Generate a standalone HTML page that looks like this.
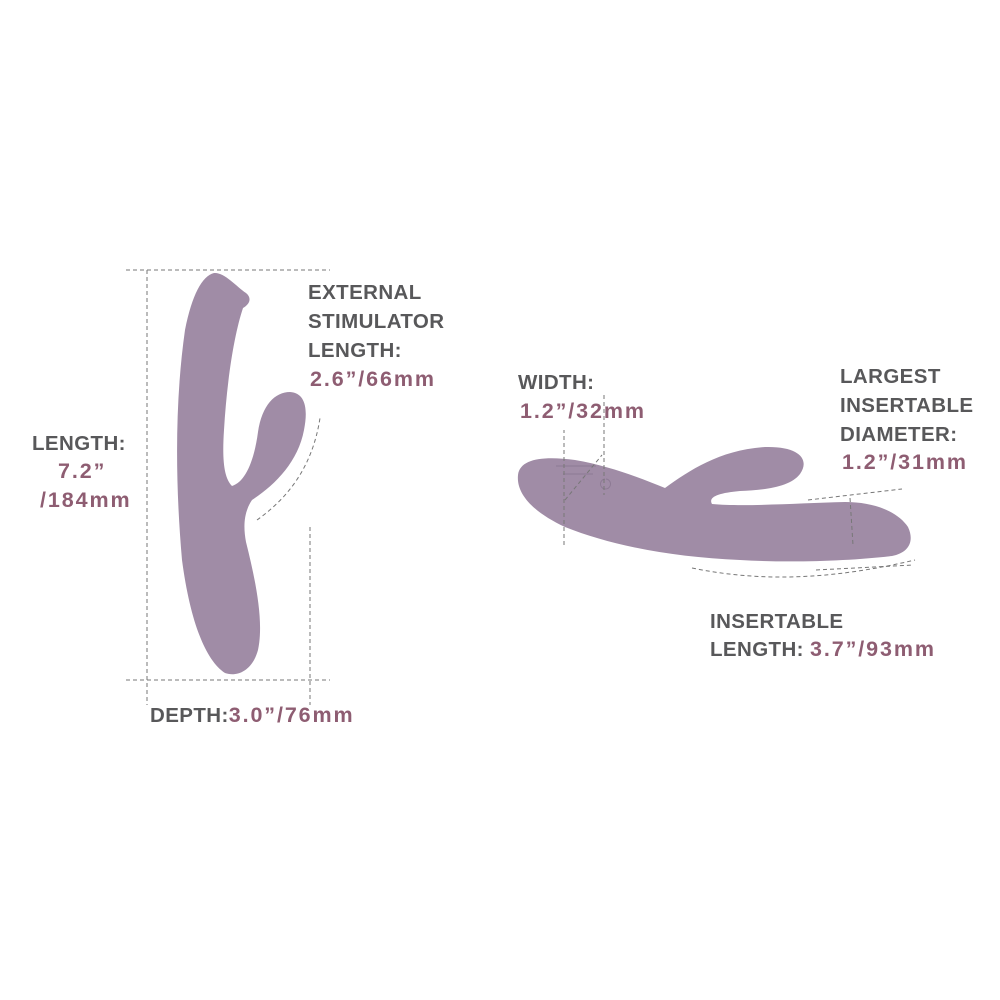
<!DOCTYPE html>
<html><head><meta charset="utf-8"><style>
html,body{margin:0;padding:0;background:#fff;}
svg{display:block}
text{font-family:"Liberation Sans",sans-serif;font-weight:bold;font-size:20.5px;letter-spacing:0.4px}
.g{fill:#58585a}.m{fill:#8e5d72;font-size:21.5px;letter-spacing:1.9px}
.d{stroke:#777;stroke-width:1;stroke-dasharray:4 3;fill:none}
</style></head><body>
<svg width="1000" height="1000" viewBox="0 0 1000 1000">
<rect width="1000" height="1000" fill="#fff"/>
<!-- left device -->
<path fill="#a08ca6" d="M214,273 C224,272 236,286 246,293 C252,298 250,304 243,308 C234,335 227,380 224,430 C222,460 224,478 232,486 C245,482 254,462 258,432 C262,405 275,392 290,392 C306,393 308,410 304,430 C298,462 275,485 252,500 C244,512 243,526 246,542 C256,582 264,622 258,650 C252,672 236,677 225,673 C205,660 190,620 182,560 C175,480 175,400 185,330 C192,295 202,276 214,273 Z"/>
<!-- right device -->
<path fill="#a08ca6" d="M518,475 C520,458 545,456 575,460 C610,466 640,478 665,488 C690,470 720,450 765,447 C800,446 810,460 800,474 C790,487 765,490 740,491 C718,493 708,497 712,504 C745,507 800,503 845,502 C875,502 898,512 908,527 C915,542 908,553 892,556 C850,561 790,563 740,560 C670,557 610,545 565,527 C535,513 516,495 518,475 Z"/>
<path fill="none" stroke="#8d7a94" stroke-width="1" d="M556,466 h40 M563,474 h30 M605,479 a5 5 0 1 0 1 0"/>
<!-- dashed lines left -->
<path class="d" d="M126,270 H330 M126,680 H330 M147,270 V705 M310,527 V705 M257,520 C285,500 312,470 320,418"/>
<!-- dashed lines right -->
<path class="d" d="M564,545 V430 M604,395 V495 M565,500 L602,455 M808,500 L902,489 M850,498 L853,545 M692,568 C760,582 830,580 915,560 M816,570 L913,565"/>
<!-- text -->
<text class="g" x="308" y="299">EXTERNAL</text>
<text class="g" x="308" y="328">STIMULATOR</text>
<text class="g" x="308" y="357">LENGTH:</text>
<text class="m" x="310" y="386">2.6”/66mm</text>
<text class="g" x="32" y="450">LENGTH:</text>
<text class="m" x="58" y="478">7.2”</text>
<text class="m" x="40" y="507">/184mm</text>
<text class="g" x="150" y="722">DEPTH:<tspan class="m">3.0”/76mm</tspan></text>
<text class="g" x="518" y="389">WIDTH:</text>
<text class="m" x="520" y="418">1.2”/32mm</text>
<text class="g" x="840" y="383">LARGEST</text>
<text class="g" x="840" y="412">INSERTABLE</text>
<text class="g" x="840" y="441">DIAMETER:</text>
<text class="m" x="842" y="469">1.2”/31mm</text>
<text class="g" x="710" y="628">INSERTABLE</text>
<text class="g" x="710" y="656">LENGTH: <tspan class="m">3.7”/93mm</tspan></text>
</svg>
</body></html>
